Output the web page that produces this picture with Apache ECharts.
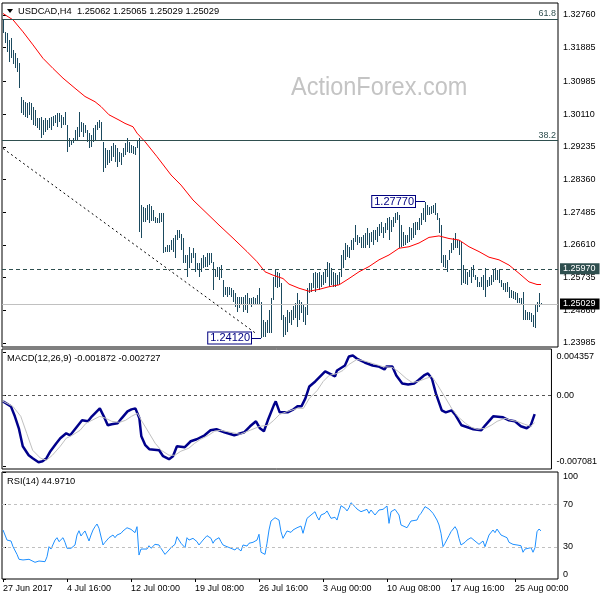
<!DOCTYPE html>
<html><head><meta charset="utf-8">
<script src="https://cdn.jsdelivr.net/npm/echarts@6/dist/echarts.min.js"></script>
<style>html,body{margin:0;padding:0;background:#fff}#c{width:600px;height:600px}</style>
</head><body><div id="c"></div><script>
// ---------- DATA ----------
const symbolName = 'USDCAD,H4';
const lastOHLC = ['1.25062', '1.25065', '1.25029', '1.25029'];
const highs = [
1.3265,1.3231,1.3228,1.3209,1.3215,1.3182,1.3174,1.3161,1.3148,1.3056,
1.3049,1.3044,1.3041,1.3044,1.3041,1.3030,1.3022,1.3001,1.3001,1.3003,
1.2995,1.3001,1.2995,1.3001,1.3003,1.3006,1.3009,1.3014,1.3014,1.3009,
1.3003,1.3017,1.2982,1.2947,1.2942,1.2947,1.2968,1.2976,1.3017,1.2990,
1.2987,1.2982,1.2968,1.2960,1.2955,1.2974,1.2982,1.2990,1.2995,1.2990,
1.2937,1.2921,1.2915,1.2915,1.2926,1.2934,1.2929,1.2921,1.2910,1.2907,
1.2921,1.2934,1.2947,1.2937,1.2929,1.2926,1.2923,1.2942,1.2947,1.2768,
1.2762,1.2760,1.2768,1.2770,1.2765,1.2754,1.2735,1.2733,1.2746,1.2746,
1.2746,1.2655,1.2661,1.2661,1.2674,1.2680,1.2688,1.2701,1.2701,1.2690,
1.2680,1.2634,1.2634,1.2655,1.2639,1.2653,1.2639,1.2613,1.2613,1.2626,
1.2634,1.2628,1.2639,1.2639,1.2639,1.2616,1.2594,1.2602,1.2602,1.2607,
1.2567,1.2548,1.2548,1.2548,1.2546,1.2540,1.2532,1.2521,1.2521,1.2521,
1.2521,1.2527,1.2532,1.2519,1.2519,1.2521,1.2519,1.2527,1.2546,1.2509,
1.2460,1.2455,1.2460,1.2487,1.2519,1.2575,1.2594,1.2589,1.2586,1.2559,
1.2474,1.2468,1.2487,1.2482,1.2487,1.2498,1.2506,1.2532,1.2514,1.2509,
1.2501,1.2495,1.2546,1.2559,1.2559,1.2586,1.2589,1.2586,1.2589,1.2581,
1.2589,1.2594,1.2616,1.2613,1.2599,1.2589,1.2586,1.2581,1.2589,1.2634,
1.2647,1.2666,1.2661,1.2655,1.2674,1.2680,1.2715,1.2688,1.2682,1.2682,
1.2688,1.2693,1.2707,1.2693,1.2696,1.2701,1.2701,1.2709,1.2717,1.2723,
1.2709,1.2720,1.2733,1.2735,1.2728,1.2735,1.2746,1.2749,1.2741,1.2715,
1.2696,1.2688,1.2688,1.2709,1.2707,1.2720,1.2723,1.2723,1.2733,1.2746,
1.2760,1.2777,1.2768,1.2762,1.2765,1.2768,1.2773,1.2746,1.2733,1.2715,
1.2634,1.2634,1.2621,1.2647,1.2666,1.2680,1.2693,1.2674,1.2674,1.2669,
1.2607,1.2594,1.2589,1.2594,1.2602,1.2607,1.2581,1.2575,1.2562,1.2575,
1.2581,1.2599,1.2567,1.2575,1.2581,1.2594,1.2599,1.2594,1.2594,1.2567,
1.2559,1.2559,1.2562,1.2548,1.2540,1.2538,1.2535,1.2532,1.2519,1.2519,
1.2535,1.2487,1.2482,1.2482,1.2479,1.2474,1.2501,1.2509,1.2532,1.25065];
const lows = [
1.3228,1.3201,1.3177,1.3151,1.3161,1.3145,1.3135,1.3124,1.3081,1.3014,
1.3009,1.3003,1.3001,1.3009,1.2995,1.2982,1.2979,1.2974,1.2968,1.2947,
1.2955,1.2963,1.2968,1.2974,1.2968,1.2979,1.2987,1.2976,1.2990,1.2974,
1.2982,1.2982,1.2910,1.2923,1.2929,1.2934,1.2939,1.2942,1.2950,1.2963,
1.2950,1.2960,1.2937,1.2921,1.2923,1.2937,1.2942,1.2968,1.2974,1.2942,
1.2856,1.2866,1.2874,1.2880,1.2885,1.2896,1.2883,1.2869,1.2883,1.2874,
1.2896,1.2902,1.2910,1.2907,1.2907,1.2904,1.2902,1.2921,1.2696,1.2680,
1.2723,1.2723,1.2728,1.2720,1.2725,1.2725,1.2720,1.2720,1.2720,1.2723,
1.2639,1.2642,1.2642,1.2642,1.2647,1.2642,1.2626,1.2674,1.2680,1.2647,
1.2613,1.2613,1.2575,1.2599,1.2613,1.2626,1.2589,1.2594,1.2575,1.2589,
1.2599,1.2602,1.2602,1.2607,1.2613,1.2540,1.2575,1.2575,1.2567,1.2572,
1.2521,1.2527,1.2521,1.2527,1.2521,1.2509,1.2495,1.2482,1.2493,1.2501,
1.2482,1.2487,1.2479,1.2501,1.2495,1.2501,1.2501,1.2501,1.2501,1.2412,
1.2415,1.2415,1.2425,1.2425,1.2425,1.2514,1.2548,1.2546,1.2548,1.2460,
1.2415,1.2420,1.2428,1.2452,1.2447,1.2460,1.2466,1.2441,1.2460,1.2479,
1.2455,1.2447,1.2474,1.2532,1.2535,1.2546,1.2535,1.2546,1.2540,1.2548,
1.2554,1.2559,1.2575,1.2548,1.2554,1.2548,1.2548,1.2554,1.2554,1.2575,
1.2599,1.2621,1.2628,1.2626,1.2647,1.2647,1.2669,1.2661,1.2666,1.2653,
1.2653,1.2653,1.2661,1.2653,1.2669,1.2661,1.2674,1.2669,1.2685,1.2693,
1.2680,1.2693,1.2701,1.2674,1.2696,1.2709,1.2720,1.2728,1.2653,1.2655,
1.2658,1.2661,1.2666,1.2669,1.2674,1.2680,1.2688,1.2701,1.2701,1.2715,
1.2728,1.2723,1.2741,1.2741,1.2744,1.2746,1.2741,1.2728,1.2693,1.2613,
1.2602,1.2599,1.2589,1.2621,1.2639,1.2647,1.2653,1.2653,1.2634,1.2554,
1.2559,1.2556,1.2554,1.2575,1.2559,1.2575,1.2567,1.2548,1.2548,1.2548,
1.2540,1.2521,1.2548,1.2551,1.2554,1.2562,1.2567,1.2567,1.2559,1.2548,
1.2540,1.2535,1.2535,1.2519,1.2519,1.2516,1.2514,1.2506,1.2506,1.2501,
1.2460,1.2460,1.2460,1.2460,1.2455,1.2441,1.2439,1.2482,1.2495,1.25029];

const maIdx = [0,5,10,15,20,25,30,36,41,46,49,53,58,61,65,67,71,77,84,89,95,102,108,115,122,127,131,135,140,143,148,153,158,163,168,173,178,183,188,193,198,203,208,213,218,223,228,233,238,243,248,253,258,263,267,269];
const maVal = [1.3280,1.3263,1.3231,1.3196,1.3160,1.3133,1.3107,1.3080,1.3058,1.3044,1.3031,1.3009,1.2995,1.2986,1.2977,1.2960,1.2937,1.2897,1.2848,1.2821,1.2781,1.2745,1.2714,1.2679,1.2643,1.2616,1.2589,1.2580,1.2571,1.2556,1.2545,1.2537,1.2542,1.2549,1.2554,1.2571,1.2589,1.2603,1.2621,1.2634,1.2652,1.2656,1.2666,1.2681,1.2685,1.2678,1.2674,1.2656,1.2643,1.2628,1.2621,1.2607,1.2585,1.2562,1.2555,1.2555];

const macdIdx = [0,4,6,8,10,13,15,18,20,22,24,27,29,32,34,38,40,43,45,49,51,53,55,58,60,63,65,67,69,70,72,74,79,81,84,86,88,92,95,98,102,105,108,112,117,122,125,128,130,132,134,137,138,140,144,147,149,151,153,155,158,163,165,168,169,173,175,177,179,183,187,190,193,194,197,199,202,205,208,210,213,215,217,219,222,224,227,229,232,235,238,242,244,248,253,256,259,262,265,267,269];
const macdVal = [-0.0006,-0.0011,-0.0021,-0.0033,-0.0051,-0.0060,-0.0063,-0.0067,-0.0066,-0.0063,-0.0056,-0.0048,-0.0043,-0.0038,-0.0040,-0.0030,-0.0025,-0.0026,-0.0021,-0.0013,-0.0021,-0.0030,-0.0029,-0.0028,-0.0023,-0.0016,-0.0014,-0.0013,-0.0023,-0.0041,-0.0050,-0.0054,-0.0055,-0.0061,-0.0064,-0.0061,-0.0051,-0.0052,-0.0046,-0.0044,-0.0040,-0.0035,-0.0034,-0.0037,-0.0040,-0.0037,-0.0031,-0.0026,-0.0033,-0.0036,-0.0025,-0.0010,-0.0006,-0.0017,-0.0017,-0.0014,-0.0011,-0.0011,-0.0003,0.0009,0.0014,0.0024,0.0022,0.0019,0.0025,0.0030,0.0039,0.0040,0.0037,0.0033,0.0030,0.0029,0.0026,0.0029,0.0029,0.0020,0.0012,0.0011,0.0012,0.0015,0.0020,0.0022,0.0017,0.0002,-0.0015,-0.0017,-0.0015,-0.0020,-0.0030,-0.0032,-0.0034,-0.0035,-0.0030,-0.0021,-0.0022,-0.0025,-0.0026,-0.0031,-0.0033,-0.0030,-0.001872];
const sigIdx = [0,5,9,12,15,19,22,25,29,32,35,39,42,45,49,52,55,59,62,65,68,70,74,77,80,84,87,90,94,97,100,104,107,110,115,120,125,130,134,137,140,144,149,152,155,159,162,165,169,172,175,179,182,187,192,197,200,204,207,210,214,217,220,224,227,230,234,237,240,244,247,250,254,257,260,264,267,269];
const sigVal = [-0.0006,-0.0011,-0.0021,-0.0038,-0.0055,-0.0063,-0.0065,-0.0060,-0.0051,-0.0043,-0.0040,-0.0035,-0.0028,-0.0025,-0.0021,-0.0023,-0.0026,-0.0027,-0.0025,-0.0021,-0.0018,-0.0025,-0.0038,-0.0048,-0.0055,-0.0060,-0.0060,-0.0056,-0.0053,-0.0048,-0.0044,-0.0040,-0.0036,-0.0035,-0.0037,-0.0039,-0.0035,-0.0031,-0.0030,-0.0025,-0.0019,-0.0016,-0.0013,-0.0013,-0.0003,0.0005,0.0014,0.0020,0.0022,0.0025,0.0031,0.0036,0.0035,0.0032,0.0029,0.0028,0.0024,0.0017,0.0013,0.0014,0.0017,0.0019,0.0010,-0.0003,-0.0013,-0.0021,-0.0028,-0.0032,-0.0034,-0.0033,-0.0030,-0.0026,-0.0023,-0.0025,-0.0026,-0.0029,-0.0031,-0.002727];

const rsiIdx = [0,1,2,4,5,6,7,8,10,13,14,16,18,19,21,22,23,24,25,26,27,28,30,31,32,34,36,37,38,39,40,41,43,44,45,46,47,48,50,51,52,53,55,56,57,59,60,62,64,65,66,67,68,69,70,72,73,74,76,78,79,81,82,83,84,86,87,88,89,91,92,93,95,97,98,100,101,102,104,105,106,108,109,110,112,113,114,116,117,119,120,122,123,125,127,128,129,130,131,132,133,134,136,137,138,139,140,141,142,144,145,146,147,149,150,152,153,154,156,157,158,159,161,162,163,164,166,167,168,169,171,172,173,174,176,177,179,180,182,183,184,185,186,188,189,190,191,192,193,194,196,197,198,199,200,202,203,204,205,207,208,209,210,211,213,214,215,217,218,219,220,221,222,223,224,226,227,228,229,231,232,233,234,236,237,238,239,240,241,243,244,245,246,247,249,250,252,253,255,257,259,260,261,262,264,265,266,267,268,269];
const rsiVal = [45.8,41.1,36.4,35.5,30.2,29.3,23.0,18.4,17.8,18.4,17.8,15.6,16.8,17.8,16.2,20.8,30.2,28.0,27.1,36.4,38.6,34.9,38.6,34.3,28.7,28.7,31.8,41.1,45.1,40.2,42.7,44.9,35.5,41.1,45.8,48.9,51.4,47.4,31.8,34.3,36.4,38.6,41.1,38.6,41.1,42.7,44.9,47.9,46.4,44.9,43.3,48.9,22.4,28.0,27.1,28.0,31.1,28.7,32.4,31.8,28.7,23.0,24.0,27.1,29.3,32.4,39.5,36.4,33.4,29.3,38.6,36.4,38.0,34.9,31.8,36.4,38.0,40.5,38.0,33.4,36.4,38.6,34.9,31.8,30.2,30.8,28.7,27.1,29.3,26.2,31.8,30.8,33.4,34.3,36.4,41.8,25.0,25.5,23.0,33.4,45.8,54.2,57.3,57.7,55.1,44.2,38.0,36.4,44.9,43.6,45.8,46.4,47.9,49.5,42.7,56.7,58.2,59.8,62.9,58.2,55.1,59.8,61.4,63.6,62.9,56.7,57.7,55.1,55.8,68.5,66.1,63.6,66.6,71.3,67.6,65.4,62.9,62.3,65.1,61.4,64.5,65.1,59.8,64.5,62.9,65.1,66.1,68.2,52.0,62.9,65.1,64.5,59.8,50.5,48.9,47.9,48.9,54.2,55.8,55.1,59.2,61.4,61.4,67.6,65.4,66.1,61.4,55.1,50.5,42.7,30.2,33.4,34.9,40.5,44.2,48.9,45.8,38.0,31.8,34.3,36.4,37.4,38.6,35.5,34.9,32.4,33.4,35.5,30.2,41.1,40.5,45.8,43.3,46.7,41.1,39.5,38.6,34.3,32.4,31.8,31.1,25.0,28.0,26.2,29.3,25.0,29.3,44.2,46.7,44.971];

const priceTicks = [1.23985,1.24860,1.25735,1.26610,1.27485,1.28360,1.29235,1.30110,1.30985,1.31885,1.32760];
const macdTicks = [-0.007081, 0, 0.004357];
const macdTickLabels = ['-0.007081', '0.00', '0.004357'];
const rsiTicks = [0, 30, 70, 100];
const xTickIdx = [0,32,64,96,128,160,192,224,256];
const xTickLabels = ['27 Jun 2017','4 Jul 16:00','12 Jul 00:00','19 Jul 08:00','26 Jul 16:00','3 Aug 00:00','10 Aug 08:00','17 Aug 16:00','25 Aug 00:00'];

const fib618 = 1.3265, fib382 = 1.2940, resLevel = 1.2597, lastPrice = 1.25029;
const swingHighIdx = 211, swingHigh = 1.2777, swingLowIdx = 129, swingLow = 1.2412;
const trendIdx = [0, 127], trendVal = [1.2919, 1.2422];
const macdLast = ['-0.001872', '-0.002727'];
const rsiLast = '44.9710';

// ---------- LAYOUT ----------
const FONT = '"Liberation Sans", Arial, sans-serif';
const BAR_COLOR = '#1b4a5f';
const SLATE = '#2f4f4f';
const XMIN = -0.5, XMAX = 277.5;
const pairs = (a, b) => a.map((x, i) => [x, b[i]]);
const barData = highs.map((h, i) => [i, lows[i], h]);

const chart = echarts.init(document.getElementById('c'), null, {renderer: 'canvas'});
const axisLbl = {fontSize: 9, color: '#000', fontFamily: FONT};

const option = {
  animation: false,
  backgroundColor: '#fff',
  textStyle: {fontFamily: FONT},
  grid: [
    {left: 2, right: 42, top: 3, height: 344, show: true, borderColor: '#000', borderWidth: 1},
    {left: 2, right: 42, top: 349, height: 120, show: true, borderColor: '#000', borderWidth: 1},
    {left: 2, right: 42, top: 472, height: 107, show: true, borderColor: '#000', borderWidth: 1}
  ],
  xAxis: [
    {type: 'value', gridIndex: 0, min: XMIN, max: XMAX, show: false},
    {type: 'value', gridIndex: 1, min: XMIN, max: XMAX, show: false},
    {type: 'value', gridIndex: 2, min: XMIN, max: XMAX,
     axisLine: {show: false}, splitLine: {show: false},
     axisTick: {show: true, customValues: xTickIdx, length: 3, lineStyle: {color: '#000'}},
     axisLabel: Object.assign({customValues: xTickIdx, align: 'left', margin: 5,
       formatter: v => xTickLabels[xTickIdx.indexOf(v)] || ''}, axisLbl)}
  ],
  yAxis: [
    {type: 'value', gridIndex: 0, position: 'right', min: 1.23878, max: 1.33081,
     splitLine: {show: false}, axisLine: {show: false},
     axisTick: {show: true, customValues: priceTicks, length: 3, lineStyle: {color: '#000'}},
     axisLabel: Object.assign({customValues: priceTicks, margin: 5, formatter: v => v.toFixed(5)}, axisLbl)},
    {type: 'value', gridIndex: 1, position: 'right', min: -0.007384, max: 0.004655,
     splitLine: {show: false}, axisLine: {show: false},
     axisTick: {show: true, customValues: macdTicks, length: 3, lineStyle: {color: '#000'}},
     axisLabel: Object.assign({customValues: macdTicks, margin: 5,
       verticalAlignMaxLabel: 'top', verticalAlignMinLabel: 'bottom',
       formatter: v => macdTickLabels[macdTicks.indexOf(v)] || ''}, axisLbl)},
    {type: 'value', gridIndex: 2, position: 'right', min: 0, max: 100,
     splitLine: {show: false}, axisLine: {show: false},
     axisTick: {show: true, customValues: rsiTicks, length: 3, lineStyle: {color: '#000'}},
     axisLabel: Object.assign({customValues: rsiTicks, margin: 5,
       verticalAlignMaxLabel: 'top', verticalAlignMinLabel: 'bottom',
       formatter: v => String(v)}, axisLbl)}
  ],
  series: [
    {
      type: 'custom', name: 'bars', xAxisIndex: 0, yAxisIndex: 0, data: barData,
      encode: {x: 0, y: [1, 2]}, z: 3, silent: true,
      renderItem: (params, api) => {
        const i = api.value(0);
        const lo = api.coord([i, api.value(1)]);
        const hi = api.coord([i, api.value(2)]);
        const x = Math.round(lo[0]) + 0.5;
        let y1 = Math.round(hi[1]), y2 = Math.round(lo[1]);
        if (y2 - y1 < 1) y2 = y1 + 1;
        return {type: 'line', shape: {x1: x, y1: y1, x2: x, y2: y2},
                style: {stroke: BAR_COLOR, lineWidth: 1}};
      },
      markLine: {
        silent: true, symbol: ['none', 'none'], animation: false, precision: 6,
        data: [
          {yAxis: fib618, lineStyle: {color: SLATE, type: 'solid', width: 1},
           label: {show: true, position: 'insideEndTop', formatter: '61.8', color: SLATE, fontSize: 9, distance: [2, 1]}},
          {yAxis: fib382, lineStyle: {color: SLATE, type: 'solid', width: 1},
           label: {show: true, position: 'insideEndTop', formatter: '38.2', color: SLATE, fontSize: 9, distance: [2, 1]}},
          {yAxis: resLevel, lineStyle: {color: SLATE, type: [4, 3], width: 1},
           label: {show: true, position: 'end', distance: 2, formatter: '1.25970', color: '#fff',
                   backgroundColor: SLATE, padding: [1, 4, 1, 3], fontSize: 9}},
          {yAxis: lastPrice, lineStyle: {color: '#c0c0c0', type: 'solid', width: 1},
           label: {show: true, position: 'end', distance: 2, formatter: '1.25029', color: '#fff',
                   backgroundColor: '#000', padding: [1, 4, 1, 3], fontSize: 9}},
          [{coord: [trendIdx[0], trendVal[0]], lineStyle: {color: '#000', type: [2, 3], width: 1}, label: {show: false}},
           {coord: [trendIdx[1], trendVal[1]]}],
          [{coord: [swingHighIdx - 5, swingHigh], lineStyle: {color: '#000080', type: 'solid', width: 1}, label: {show: false}},
           {coord: [swingHighIdx, swingHigh]}],
          [{coord: [swingLowIdx - 5, swingLow], lineStyle: {color: '#000080', type: 'solid', width: 1}, label: {show: false}},
           {coord: [swingLowIdx, swingLow]}]
        ]
      },
      markPoint: {
        silent: true, symbol: 'rect', symbolSize: 0, animation: false, precision: 6,
        label: {show: true, position: 'left', distance: 10, color: '#000080', fontSize: 11,
                backgroundColor: '#fff', borderColor: '#000080', borderWidth: 1, padding: [0, 1, 0, 2], lineHeight: 11},
        data: [
          {coord: [swingHighIdx, swingHigh], label: {formatter: swingHigh.toFixed(5)}},
          {coord: [swingLowIdx, swingLow], label: {formatter: swingLow.toFixed(5)}}
        ]
      }
    },
    {type: 'line', name: 'MA', xAxisIndex: 0, yAxisIndex: 0, data: pairs(maIdx, maVal),
     showSymbol: false, silent: true, z: 4, lineStyle: {color: '#ff0000', width: 1}},
    {type: 'line', name: 'MACD', xAxisIndex: 1, yAxisIndex: 1, data: pairs(macdIdx, macdVal),
     showSymbol: false, silent: true, z: 3, lineStyle: {color: '#00008b', width: 2.5},
     markLine: {silent: true, symbol: ['none', 'none'], label: {show: false}, precision: 6,
       lineStyle: {color: '#555', type: [3, 3], width: 1}, data: [{yAxis: 0}]}},
    {type: 'line', name: 'Signal', xAxisIndex: 1, yAxisIndex: 1, data: pairs(sigIdx, sigVal),
     showSymbol: false, silent: true, z: 4, lineStyle: {color: '#c0c0c0', width: 1}},
    {type: 'line', name: 'RSI', xAxisIndex: 2, yAxisIndex: 2, data: pairs(rsiIdx, rsiVal),
     showSymbol: false, silent: true, z: 3, lineStyle: {color: '#1e90ff', width: 1},
     markLine: {silent: true, symbol: ['none', 'none'], label: {show: false}, precision: 6,
       lineStyle: {color: '#c0c0c0', type: [3, 3], width: 1}, data: [{yAxis: 70}, {yAxis: 30}]}}
  ],
  graphic: [
    {type: 'text', z: 0, x: 291, y: 88, scaleX: 0.94, style: {text: 'ActionForex.com', font: '25px ' + FONT, fill: '#c4c4c4', textVerticalAlign: 'middle'}},
    {type: 'polygon', z: 10, shape: {points: [[7, 9], [13, 9], [10, 13]]}, style: {fill: '#000'}},
    {type: 'text', z: 10, x: 18, y: 11, style: {text: symbolName + '  ' + lastOHLC.join(' '), font: '9.3px ' + FONT, fill: '#000', textVerticalAlign: 'middle'}},
    {type: 'text', z: 10, x: 7, y: 358, style: {text: 'MACD(12,26,9) ' + macdLast.join(' '), font: '9.3px ' + FONT, fill: '#000', textVerticalAlign: 'middle'}},
    {type: 'text', z: 10, x: 7, y: 481, style: {text: 'RSI(14) ' + rsiLast, font: '9.3px ' + FONT, fill: '#000', textVerticalAlign: 'middle'}}
  ]
};
chart.setOption(option);
</script></body></html>
